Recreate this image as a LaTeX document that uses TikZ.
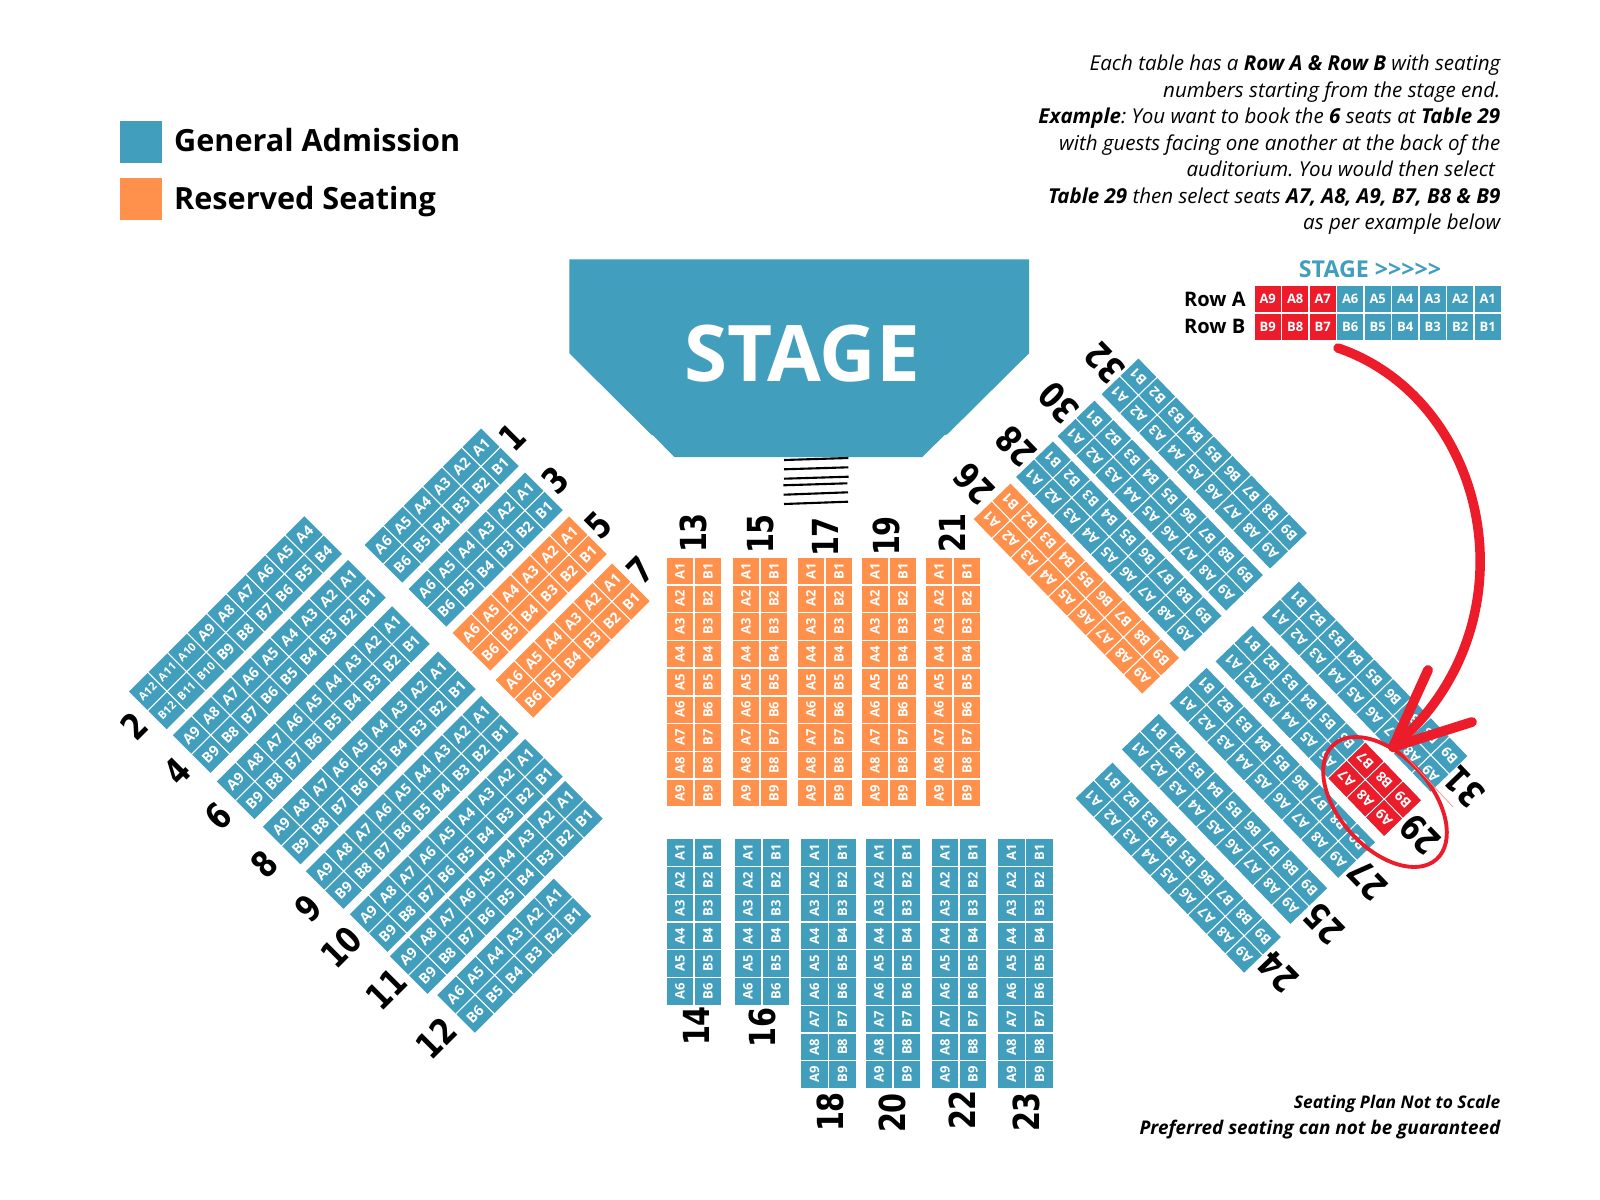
\documentclass[tikz,border=0pt]{standalone}
\usepackage{fontspec}
\setmainfont{Open Sans}
\newfontfamily\numfont[FakeStretch=0.8]{DejaVu Sans Bold}
\usetikzlibrary{calc,positioning}
\definecolor{tableblue}{HTML}{429EBD}
\definecolor{tableorange}{HTML}{FF914D}
\definecolor{inkred}{HTML}{ED1C2A}
\def\pitch{27.7}
\def\across{26.5}
\def\seatpt{3.7}
\tikzset{
    seat/.style={rectangle, inner sep=0pt, text=white, transform shape,
        minimum width={(\pitch-1.4)*0.01cm}, minimum height={(\across-1.4)*0.01cm}},
    seatfont/.style={font=\bfseries\fontsize{\seatpt}{4}\selectfont},
    tinyseatfont/.style={font=\bfseries\fontsize{3.2}{3.5}\selectfont},
    tablenum/.style={font=\numfont\fontsize{10.2}{11}\selectfont, inner sep=0pt},
    legendtext/.style={font=\bfseries\fontsize{8.7}{11}\selectfont, anchor=west, inner sep=0pt},
    rowtext/.style={font=\bfseries\fontsize{5.7}{7}\selectfont, anchor=west, inner sep=0pt},
}
\newcommand{\seatrows}[7]{
    \begin{scope}[shift={(#3,#4)},rotate=#5]
        \foreach \n in {#6,...,#7}{
            \ifnum\n>9 \tikzset{seatsize/.style={tinyseatfont}}\else\tikzset{seatsize/.style={seatfont}}\fi
            \node[seat,seatsize,fill=#2] (#1a\n) at ({-(\n-1)*\pitch},0) {A\n};
            \node[seat,seatsize,fill=#2] (#1b\n) at ({-(\n-1)*\pitch},\across) {B\n};
        }
    \end{scope}
}
\begin{document}
\frenchspacing
\begin{tikzpicture}[x=0.01cm,y=-0.01cm]
    \useasboundingbox (0,0) rectangle (1600,1200);

    \node[fill=tableblue,minimum size=0.42cm,inner sep=0pt,anchor=north west] (legendblue) at (119.5,120.5) {};
    \node[fill=tableorange,minimum size=0.42cm,inner sep=0pt,anchor=north west] (legendorange) at (119.5,177.5) {};
    \node[legendtext] (generaltext) at (173.5,140) {General Admission};
    \node[legendtext] (reservedtext) at (173.5,202) {Reserved Seating};

    \fill[tableblue] (569.3,259.3) -- (1029,259.3) -- (1029,353.3) -- (947.3,434.3) -- (944.3,435.3) -- (922.3,457)
        -- (674.3,457) -- (653,435.3) -- (651.7,435) -- (569.3,353.3) -- cycle;
    \node[text=white,font=\bfseries\fontsize{22.2}{24}\selectfont,inner sep=0pt] (stagetext) at (802.5,354) {STAGE};

    \foreach \xa/\ya/\xb/\yb in {784/460/848.3/458, 784/469.3/848.3/467.3, 784/478.7/848.7/476.7,
            783.3/485.3/847.3/483.3, 783.7/494.7/848/492.3, 784/504/848/501.7}
        \draw[line width=0.6pt] (\xa,\ya) -- (\xb,\yb);

    \def\pitch{27.75}\def\across{28}
    \foreach \t/\x in {13/680,15/746,17/811,19/875,21/939}{
        \seatrows{t\t}{tableorange}{\x}{571}{90}{1}{9}
    }
    \foreach \t/\x/\last in {14/680/6,16/748/6,18/814.5/9,20/879/9,22/945/9,23/1011.5/9}{
        \seatrows{t\t}{tableblue}{\x}{852.6}{90}{1}{\last}
    }

    \def\pitch{27.7}\def\across{27.3}\def\seatpt{4.1}
    \foreach \t/\x/\y/\last in {1/481/447/6,3/525/491/6,4/348/578.5/9,6/392/624.7/9,8/438/670/9,
            9/481/714.5/9,10/525/757.5/9,11/565/799.5/9,12/553.6/897/6}{
        \seatrows{t\t}{tableblue}{\x}{\y}{45}{1}{\last}
    }
    \seatrows{t2}{tableblue}{363}{476}{45}{4}{12}
    \foreach \t/\x/\y in {5/569/535,7/612/582}{
        \seatrows{t\t}{tableorange}{\x}{\y}{45}{1}{6}
    }

    \def\pitch{27.1}\def\across{26.3}\def\seatpt{3.9}
    \foreach \t/\x/\y in {32/1119.5/394.7,30/1075.5/436.8,28/1034/477.6,31/1280/617.8,
            29/1233.5/662,27/1187.6/704,25/1139.8/750,24/1093.5/798.8}{
        \seatrows{t\t}{tableblue}{\x}{\y}{134}{1}{9}
    }
    \seatrows{t26}{tableorange}{991.6}{519.7}{134}{1}{9}
    \seatrows{red29}{inkred}{1233.5}{662}{134}{7}{9}

    \foreach \t/\x/\y in {13/693/533,15/761/534,17/825/537,19/886/536,21/952/533,
            14/696/1026,16/762/1027.5,18/830/1112,20/892/1113,22/962/1110,23/1026/1112}
        \node[tablenum,rotate=90] (num\t) at (\x,\y) {\t};
    \foreach \t/\x/\y in {1/512.5/437,3/555/480,5/598/525.4,7/640/570.5,2/134.6/726,4/177/771.6,
            6/218.6/816.7,8/264/864,9/308/908,10/341/947,11/386/989,12/436/1037.6}
        \node[tablenum,rotate=45] (num\t) at (\x,\y) {\t};
    \foreach \t/\x/\y in {32/1104.6/363,30/1058.6/403,28/1016.5/446.5,26/974.4/484,31/1464.3/787,
            29/1420.3/834.5,27/1367.5/880,25/1323.9/924,24/1278/972}
        \node[tablenum,rotate=134] (num\t) at (\x,\y) {\t};

    \node[font=\itshape\fontsize{5.84}{7.52}\selectfont,align=right,anchor=north east,inner sep=0pt] (helptext) at (1501,54.5) {
        Each table has a \textbf{Row A \& Row B} with seating\\
        numbers starting from the stage end.\\
        \textbf{Example}: You want to book the \textbf{6} seats at \textbf{Table 29}\\
        with guests facing one another at the back of the\\
        auditorium. You would then select\rule{1.5pt}{0pt}\\
        \textbf{Table 29} then select seats \textbf{A7, A8, A9, B7, B8 \& B9}\\
        as per example below};
    \node[font=\bfseries\itshape\fontsize{4.95}{7.2}\selectfont,align=right,anchor=east,inner sep=0pt] (notetext) at (1501,1117) {
        Seating Plan Not to Scale\\
        {\fontsize{5.37}{7.2}\selectfont Preferred seating can not be guaranteed}};

    \node[font=\bfseries\fontsize{6.6}{7}\selectfont,text=tableblue,inner sep=0pt] (examplestage) at (1370,269) {STAGE >{}>{}>{}>{}>};
    \node[rowtext] (rowa) at (1183.5,299) {Row A};
    \node[rowtext] (rowb) at (1183.5,326) {Row B};
    \def\pitch{27.5}\def\across{28}\def\seatpt{3.7}
    \seatrows{ex}{tableblue}{1487.7}{299}{0}{1}{6}
    \seatrows{exred}{inkred}{1487.7}{299}{0}{7}{9}

    \coordinate (arrowstart) at (1338,348);
    \coordinate (arrowtip) at (1393,747);
    \coordinate (barbup) at (1428,670);
    \coordinate (barbright) at (1472,722);
    \draw[inkred,line width=2.7pt,line cap=round] (arrowstart) .. controls (1490,400) and (1538,625) .. (arrowtip);
    \draw[inkred,line width=2.8pt,line cap=round,line join=round] (barbup) -- (arrowtip) -- (barbright);
    \draw[inkred,line width=1.1pt,rotate around={-48:(1385,802)}] (1385,802) ellipse (77 and 46);
    \draw[inkred!50,line width=0.2pt] (1403,753) -- (1453,807);
\end{tikzpicture}
\end{document}
